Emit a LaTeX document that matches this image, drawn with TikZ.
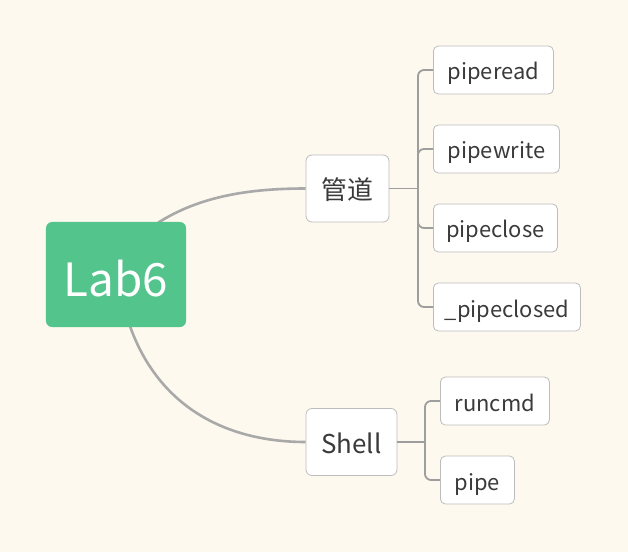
\documentclass[tikz,border=0pt]{standalone}
\usepackage{fontspec}
\setmainfont{Noto Sans CJK SC}
\usetikzlibrary{calc}
\pgfdeclarelayer{bg}
\pgfsetlayers{bg,main}
\definecolor{bgc}{HTML}{FEF9EE}
\definecolor{rootc}{HTML}{52C48C}
\definecolor{boxline}{HTML}{BDBDBD}
\definecolor{curvec}{HTML}{A9A9A9}
\definecolor{brc}{HTML}{9E9E9E}
\definecolor{txt}{HTML}{3A3A3A}
\tikzset{
  rootbox/.style={fill=rootc, rounded corners=6bp, minimum width=140bp, minimum height=105bp, text=white, font=\fontsize{46}{50}\selectfont, inner sep=0pt, text height=48bp, text depth=4bp},
  midbox/.style={draw=boxline, line width=0.8bp, fill=white, rounded corners=6bp, minimum height=67bp, text=txt, font=\fontsize{26}{30}\selectfont, inner sep=0pt, text height=26bp, text depth=4bp},
  leafbox/.style={draw=boxline, line width=0.8bp, fill=white, rounded corners=5bp, minimum height=48bp, text=txt, font=\fontsize{22}{26}\selectfont, inner sep=0pt, anchor=west, text height=24bp, text depth=4bp},
  curveline/.style={draw=curvec, line width=2.6bp},
  brline/.style={draw=brc, line width=1.8bp, rounded corners=6bp}
}
\begin{document}
\begin{tikzpicture}[x=1bp, y=-1bp]
\begin{pgfonlayer}{bg}
\fill[bgc] (0,0) rectangle (628,552);
\end{pgfonlayer}
\useasboundingbox (0,0) rectangle (628,552);
\node[rootbox] (lab) at (116,274.5) {Lab6};
\node[midbox, minimum width=83bp] (gd) at (347.5,188.5) {管道};
\node[midbox, minimum width=91bp] (sh) at (351.5,442) {Shell};
\coordinate (c1s) at ($(lab.north)+(42,1)$);
\coordinate (c2s) at ($(lab.south)+(14,-1)$);
\begin{pgfonlayer}{bg}
\draw[curveline] (c1s) .. controls (200,196) and (250,188.5) .. (gd.west);
\draw[curveline] (c2s) .. controls (160,410) and (230,442) .. (sh.west);
\end{pgfonlayer}
\node[leafbox, minimum width=120bp] (pr) at (433,70) {piperead};
\node[leafbox, minimum width=126bp] (pw) at (433,149) {pipewrite};
\node[leafbox, minimum width=124bp] (pc) at (433,228) {pipeclose};
\node[leafbox, minimum width=147bp] (pcd) at (433,307) {\_pipeclosed};
\node[leafbox, minimum width=109bp] (rc) at (440,401) {runcmd};
\node[leafbox, minimum width=74bp] (pp) at (440,480) {pipe};
\coordinate (gb) at (418,188.5);
\coordinate (sb) at (425,442);
\draw[brline] (gd.east) -- (gb);
\foreach \c in {pr,pw,pc,pcd} \draw[brline] (gb) |- (\c.west);
\draw[brline] (sh.east) -- (sb);
\foreach \c in {rc,pp} \draw[brline] (sb) |- (\c.west);
\end{tikzpicture}
\end{document}
